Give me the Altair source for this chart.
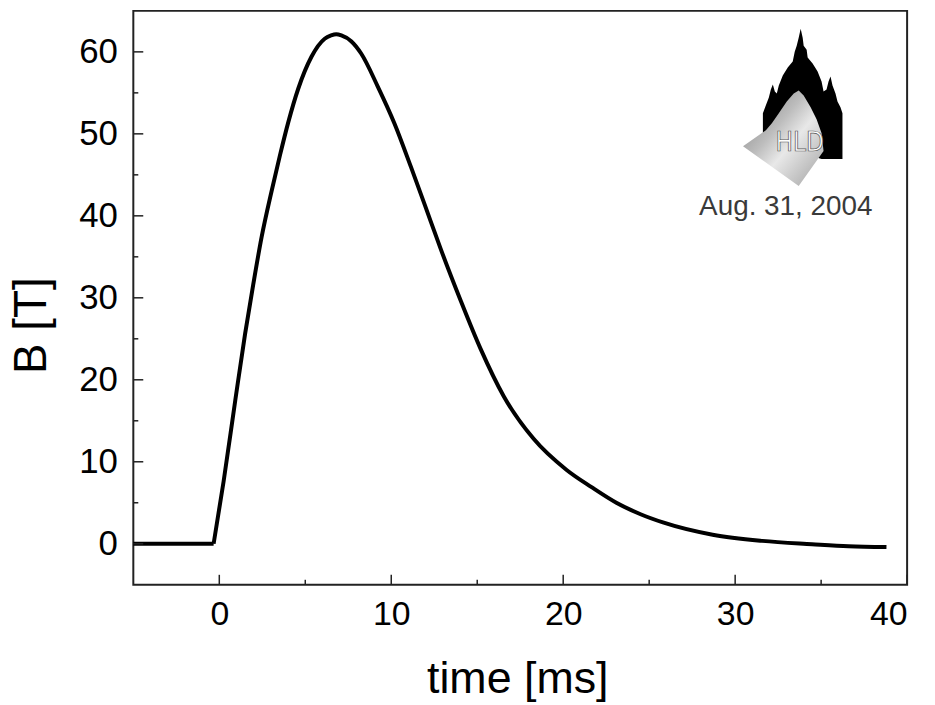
import altair as alt
import pandas as pd

# ---- data ----
time_ms = [-5, -0.33, 0.25, 0.93, 1.50, 1.98, 2.46, 3.04, 3.53, 4.01, 4.59, 5.36, 6.13, 6.5,
           6.8, 7.1, 7.67, 8.25, 9.21, 10.18, 11.14, 12.30, 12.87, 14.03, 15.19, 16.54,
           18.28, 20.2, 21.65, 23.09, 24.5, 25.8, 28.69, 31.58, 34.47, 36.59, 38.8]
field_T = [0, 0, 7.6, 17.5, 25.6, 31.7, 37.4, 43.0, 47.4, 51.4, 55.5, 59.4, 61.6, 62.0,
           62.15, 62.0, 61.3, 59.8, 55.8, 51.3, 46.0, 39.3, 36.0, 29.7, 23.8, 18.0,
           12.8, 9.0, 6.9, 5.0, 3.6, 2.6, 1.1, 0.35, -0.05, -0.3, -0.4]
pulse_start = -0.33

x_major = [0, 10, 20, 30, 40]
x_minor = [5, 15, 25, 35]
y_major = [0, 10, 20, 30, 40, 50, 60]
y_minor = [5, 15, 25, 35, 45, 55]
date_label = ["Aug. 31, 2004"]
logo_label = ["HLD"]

W, H = 778, 577
FONT = "Liberation Sans"

xs = alt.Scale(domain=[-5, 40], nice=False, zero=False)
ys = alt.Scale(domain=[-5, 65], nice=False, zero=False)

df = pd.DataFrame({"t": time_ms, "B": field_T})

x_axis = alt.Axis(
    title="time [ms]", values=x_major, ticks=False, domain=False, grid=False,
    labelFontSize=34, labelFont=FONT, labelColor="black", labelPadding=13,
    titleFont=FONT, titleFontSize=45, titleFontWeight="normal", titleColor="black",
    titleX=386, titleY=108, titleBaseline="alphabetic", titleAnchor="middle", format="d")
y_axis = alt.Axis(
    title="B [T]", values=y_major, ticks=False, domain=False, grid=False,
    labelFontSize=35, labelFont=FONT, labelColor="black", labelPadding=16,
    titleFont=FONT, titleFontSize=46, titleFontWeight="normal", titleColor="black",
    titleX=-88, titleY=316, titleAngle=-90, titleBaseline="alphabetic",
    titleAlign="center", format="d")

curve = alt.Chart(df).transform_filter(alt.datum.t >= pulse_start).mark_line(
    color="black", strokeWidth=4, interpolate="monotone").encode(
    x=alt.X("t:Q", scale=xs, axis=x_axis),
    y=alt.Y("B:Q", scale=ys, axis=y_axis),
    order=alt.Order("t:Q"),
)
flat = alt.Chart(df).transform_filter(alt.datum.t <= pulse_start).mark_line(
    color="black", strokeWidth=4).encode(
    x=alt.X("t:Q", scale=xs, axis=x_axis),
    y=alt.Y("B:Q", scale=ys, axis=y_axis),
)

tick_color = "#222"
xmaj = alt.Chart(pd.DataFrame({"t": x_major})).mark_rule(color=tick_color, strokeWidth=1.5).encode(
    x=alt.X("t:Q", scale=xs, axis=x_axis), y=alt.value(H), y2=alt.value(H - 10))
xmin = alt.Chart(pd.DataFrame({"t": x_minor})).mark_rule(color=tick_color, strokeWidth=1.5).encode(
    x=alt.X("t:Q", scale=xs, axis=x_axis), y=alt.value(H), y2=alt.value(H - 5))
ymaj = alt.Chart(pd.DataFrame({"B": y_major})).mark_rule(color=tick_color, strokeWidth=1.5).encode(
    y=alt.Y("B:Q", scale=ys, axis=y_axis), x=alt.value(0), x2=alt.value(10))
ymin = alt.Chart(pd.DataFrame({"B": y_minor})).mark_rule(color=tick_color, strokeWidth=1.5).encode(
    y=alt.Y("B:Q", scale=ys, axis=y_axis), x=alt.value(0), x2=alt.value(5))

# ---- HLD logo (decorative) ----
LOGO_CX, LOGO_CY, LOGO_S = 800, 107, 80  # page pixels, px per unit


def shape_path(pts):
    parts = []
    for i, (px, py) in enumerate(pts):
        u = (px - LOGO_CX) / LOGO_S
        v = (py - LOGO_CY) / LOGO_S
        parts.append(("M" if i == 0 else "L") + f"{u:.4f},{v:.4f}")
    return "".join(parts) + "Z"


church_pts = [(805, 27), (807, 36), (808, 44), (811, 48), (812, 56), (817, 62), (822, 70),
              (826, 80), (828, 90), (831, 88), (833, 80), (835, 75), (837, 84), (840, 92),
              (842, 100), (845, 106), (847, 112), (847, 158), (826, 158), (800, 150),
              (775, 140), (767, 132), (767, 112), (770, 104), (773, 96), (775, 88),
              (777, 83), (779, 90), (781, 92), (783, 84), (787, 74), (792, 66), (797, 60),
              (799, 50), (801, 44), (803, 36)]
glow_pts = [(747, 145), (770, 129), (776, 122), (783, 112), (791, 100), (798, 92), (803, 89),
            (808, 94), (815, 106), (821, 118), (826, 132), (828, 150), (803, 185)]

one = pd.DataFrame({"k": [0]})
lx, ly = LOGO_CX - 134, LOGO_CY - 9
size = (2 * LOGO_S) ** 2

church = alt.Chart(one).mark_point(
    shape=shape_path(church_pts), filled=True, fill="black", strokeWidth=0, opacity=1,
    size=size).encode(x=alt.value(lx), y=alt.value(ly))
glow = alt.Chart(one).mark_point(
    shape=shape_path(glow_pts), filled=True, strokeWidth=0, opacity=1, size=size,
    fill=alt.LinearGradient(gradient="linear", x1=0, y1=0, x2=1, y2=1, stops=[
        alt.GradientStop(color="#7a7a7a", offset=0),
        alt.GradientStop(color="#bdbdbd", offset=0.4),
        alt.GradientStop(color="#e8e8e8", offset=0.58),
        alt.GradientStop(color="#a0a0a0", offset=1)])).encode(
    x=alt.value(lx), y=alt.value(ly))
hld = alt.Chart(pd.DataFrame({"label": logo_label})).mark_text(
    font="DejaVu Sans Condensed, Liberation Sans", fontSize=26, fill="#ffffff",
    stroke="#555555", strokeWidth=0.7, align="center", baseline="middle").encode(
    text="label:N", x=alt.value(804 - 134), y=alt.value(142 - 9))
date = alt.Chart(pd.DataFrame({"label": date_label})).mark_text(
    font=FONT, fontSize=28, color="#3a3a3a", align="center", baseline="alphabetic").encode(
    text="label:N", x=alt.value(790 - 134), y=alt.value(214 - 9))

chart = alt.layer(curve, flat, xmaj, xmin, ymaj, ymin, church, glow, hld, date).properties(
    width=W, height=H,
    autosize=alt.AutoSizeParams(type="none"),
    padding={"left": 126, "top": 1, "right": 20, "bottom": 117},
    background="white",
).configure_view(stroke="#222", strokeWidth=2)

chart.save("out.html", embed_options={"renderer": "svg", "actions": False})
